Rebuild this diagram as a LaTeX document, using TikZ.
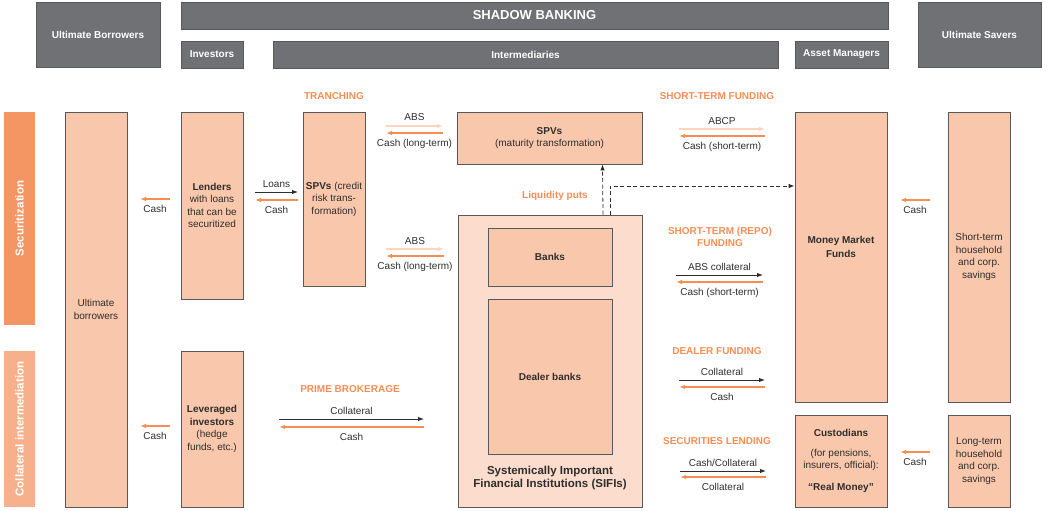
\documentclass[tikz,border=0pt]{standalone}
\usepackage{fontspec}
\setmainfont{Liberation Sans}
\usetikzlibrary{arrows.meta}
\definecolor{boxfill}{HTML}{F9C7AB}
\definecolor{sififill}{HTML}{FCDCCC}
\definecolor{flowor}{HTML}{F58D55}
\definecolor{flowlight}{HTML}{FCD3BD}
\definecolor{secbar}{HTML}{F39664}
\definecolor{colbar}{HTML}{F6B18C}
\definecolor{headgrey}{HTML}{707174}
\definecolor{edgegrey}{HTML}{58595B}
\definecolor{inkgrey}{HTML}{2E2E2E}
\tikzset{% change default arrow tips
    >={Latex[length=6pt,width=4.5pt]}
}
\tikzset{
    hdrbox/.style={draw=edgegrey, fill=headgrey, line width=0.8pt, text=white,
        font=\fontsize{10}{12}\selectfont\bfseries, inner sep=0pt},
    box/.style={draw=edgegrey, fill=boxfill, line width=0.8pt, text=inkgrey, align=center,
        font=\fontsize{10}{12.5}\selectfont, inner sep=0pt},
    sidebar/.style={fill=#1, text=white, rotate=90,
        font=\fontsize{11.5}{13}\selectfont\bfseries, inner sep=0pt},
    flowtag/.style={text=flowor, align=center, font=\fontsize{10}{12.5}\selectfont\bfseries},
    flowtxt/.style={text=inkgrey, font=\fontsize{10}{12}\selectfont},
    blackflow/.style={->, draw=inkgrey, line width=1pt},
    orangeflow/.style={->, draw=flowor, line width=1.2pt},
    lightflow/.style={->, draw=flowlight, line width=1.2pt},
    dashflow/.style={->, draw=inkgrey, line width=0.8pt, dash pattern=on 4pt off 2.5pt}
}

\begin{document}
\begin{tikzpicture}[x=1pt, y=-1pt]
    \newcommand{\flowpair}[8]{% name, left, right, y, gap, style, upper text, lower text
        \coordinate (#1-tl) at (#2,#4);
        \coordinate (#1-tr) at (#3,#4);
        \coordinate (#1-bl) at (#2,#4+#5);
        \coordinate (#1-br) at (#3,#4+#5);
        \draw[#6] (#1-tl) -- (#1-tr) node[flowtxt, midway, anchor=base, yshift=5pt] {#7};
        \draw[orangeflow] (#1-br) -- (#1-bl) node[flowtxt, midway, anchor=base, yshift=-13pt] {#8};
    }
    \newcommand{\cashback}[4]{% name, left, right, y
        \coordinate (#1-l) at (#2,#4);
        \coordinate (#1-r) at (#3,#4);
        \draw[orangeflow] (#1-r) -- (#1-l) node[flowtxt, midway, anchor=base, yshift=-13pt] {Cash};
    }

    \useasboundingbox (0,0) rectangle (1047,511);

    % headers
    \node[hdrbox, minimum width=124pt, minimum height=65pt] (borrowhead) at (98,34.5) {Ultimate Borrowers};
    \node[hdrbox, minimum width=707pt, minimum height=27pt, font=\fontsize{13}{15}\selectfont\bfseries] (shadow) at (534.5,15.5) {SHADOW BANKING};
    \node[hdrbox, minimum width=62pt, minimum height=27pt] (invhead) at (212,54.5) {Investors};
    \node[hdrbox, minimum width=505pt, minimum height=27pt] (interhead) at (525.5,54.5) {Intermediaries};
    \node[hdrbox, minimum width=93pt, minimum height=27pt] (amhead) at (841.5,54.5) {Asset Managers};
    \node[hdrbox, minimum width=123pt, minimum height=65pt] (savehead) at (979.5,34.5) {Ultimate Savers};

    % side bars
    \node[sidebar=secbar, minimum width=213pt, minimum height=31pt] (secur) at (19.5,218.5) {Securitization};
    \node[sidebar=colbar, minimum width=156pt, minimum height=31pt] (collat) at (19.5,429) {Collateral intermediation};

    % boxes
    \node[box, minimum width=62pt, minimum height=395pt] (ultb) at (96,309.5) {Ultimate\\borrowers};
    \node[box, minimum width=62pt, minimum height=187pt] (lend) at (212,205.5) {\textbf{Lenders}\\with loans\\that can be\\securitized};
    \node[box, minimum width=62pt, minimum height=156pt] (lev) at (212,429) {\textbf{Leveraged}\\\textbf{investors}\\(hedge\\funds, etc.)};
    \node[box, minimum width=62pt, minimum height=174pt] (spvc) at (334,199) {\textbf{SPVs} (credit\\risk trans-\\formation)};
    \node[box, minimum width=185pt, minimum height=52pt] (spvm) at (549.5,138) {\textbf{SPVs}\\(maturity transformation)};
    \node[box, fill=sififill, minimum width=184pt, minimum height=292pt] (sifi) at (550,361) {};
    \node[box, minimum width=124pt, minimum height=58pt] (banks) at (550,257) {\textbf{Banks}};
    \node[box, minimum width=124pt, minimum height=155pt] (dealer) at (550,376.5) {\textbf{Dealer banks}};
    \node[text=inkgrey, align=center, font=\fontsize{11.5}{13.5}\selectfont\bfseries] (sifitxt) at (550,478) {Systemically Important\\Financial Institutions (SIFIs)};
    \node[box, minimum width=92pt, minimum height=290pt] (mmf) at (841,257) {};
    \node[text=inkgrey, align=center, font=\fontsize{10}{12.5}\selectfont\bfseries] (mmftxt) at (841,247) {Money Market\\[2pt]Funds};
    \node[box, minimum width=92pt, minimum height=92pt] (cust) at (841,461) {\textbf{Custodians}\\[7pt](for pensions,\\insurers, official):\\[9pt]\textbf{“Real Money”}};
    \node[box, minimum width=62pt, minimum height=290pt] (stsave) at (979,257) {Short-term\\household\\and corp.\\savings};
    \node[box, minimum width=62pt, minimum height=92pt] (ltsave) at (979,461) {Long-term\\household\\and corp.\\savings};

    % orange titles
    \node[flowtag] (tranch) at (334,96) {TRANCHING};
    \node[flowtag] (stfund) at (717,96) {SHORT-TERM FUNDING};
    \node[flowtag] (liqputs) at (555,196) {Liquidity puts};
    \node[flowtag] (repotag) at (720,237) {SHORT-TERM (REPO)\\FUNDING};
    \node[flowtag] (dealtag) at (717,351) {DEALER FUNDING};
    \node[flowtag] (sltag) at (717,441) {SECURITIES LENDING};
    \node[flowtag] (primetag) at (350,389) {PRIME BROKERAGE};

    % flows
    \flowpair{loans}{255}{298}{192}{8}{blackflow}{Loans}{Cash}
    \flowpair{absa}{386}{443}{126}{7}{lightflow}{ABS}{Cash (long-term)}
    \flowpair{absb}{386}{444}{249}{7}{lightflow}{ABS}{Cash (long-term)}
    \flowpair{abcp}{679}{765}{129}{7}{lightflow}{ABCP}{Cash (short-term)}
    \flowpair{repo}{676}{763}{275}{7}{blackflow}{ABS collateral}{Cash (short-term)}
    \flowpair{deal}{679}{765}{380}{7}{blackflow}{Collateral}{Cash}
    \flowpair{slend}{680}{766}{471}{6}{blackflow}{Cash/Collateral}{Collateral}
    \flowpair{prime}{279}{424}{419}{8}{blackflow}{Collateral}{Cash}
    \cashback{cashub}{140}{170}{199}
    \cashback{cashlev}{140}{170}{426}
    \cashback{cashst}{900}{930}{200}
    \cashback{cashlt}{900}{930}{452}

    % liquidity puts
    \draw[dashflow] ([xshift=53pt]sifi.north) -- ([xshift=53pt]spvm.south);
    \draw[dashflow] ([xshift=60pt]sifi.north) |- ([yshift=71pt]mmf.west);
\end{tikzpicture}
\end{document}
